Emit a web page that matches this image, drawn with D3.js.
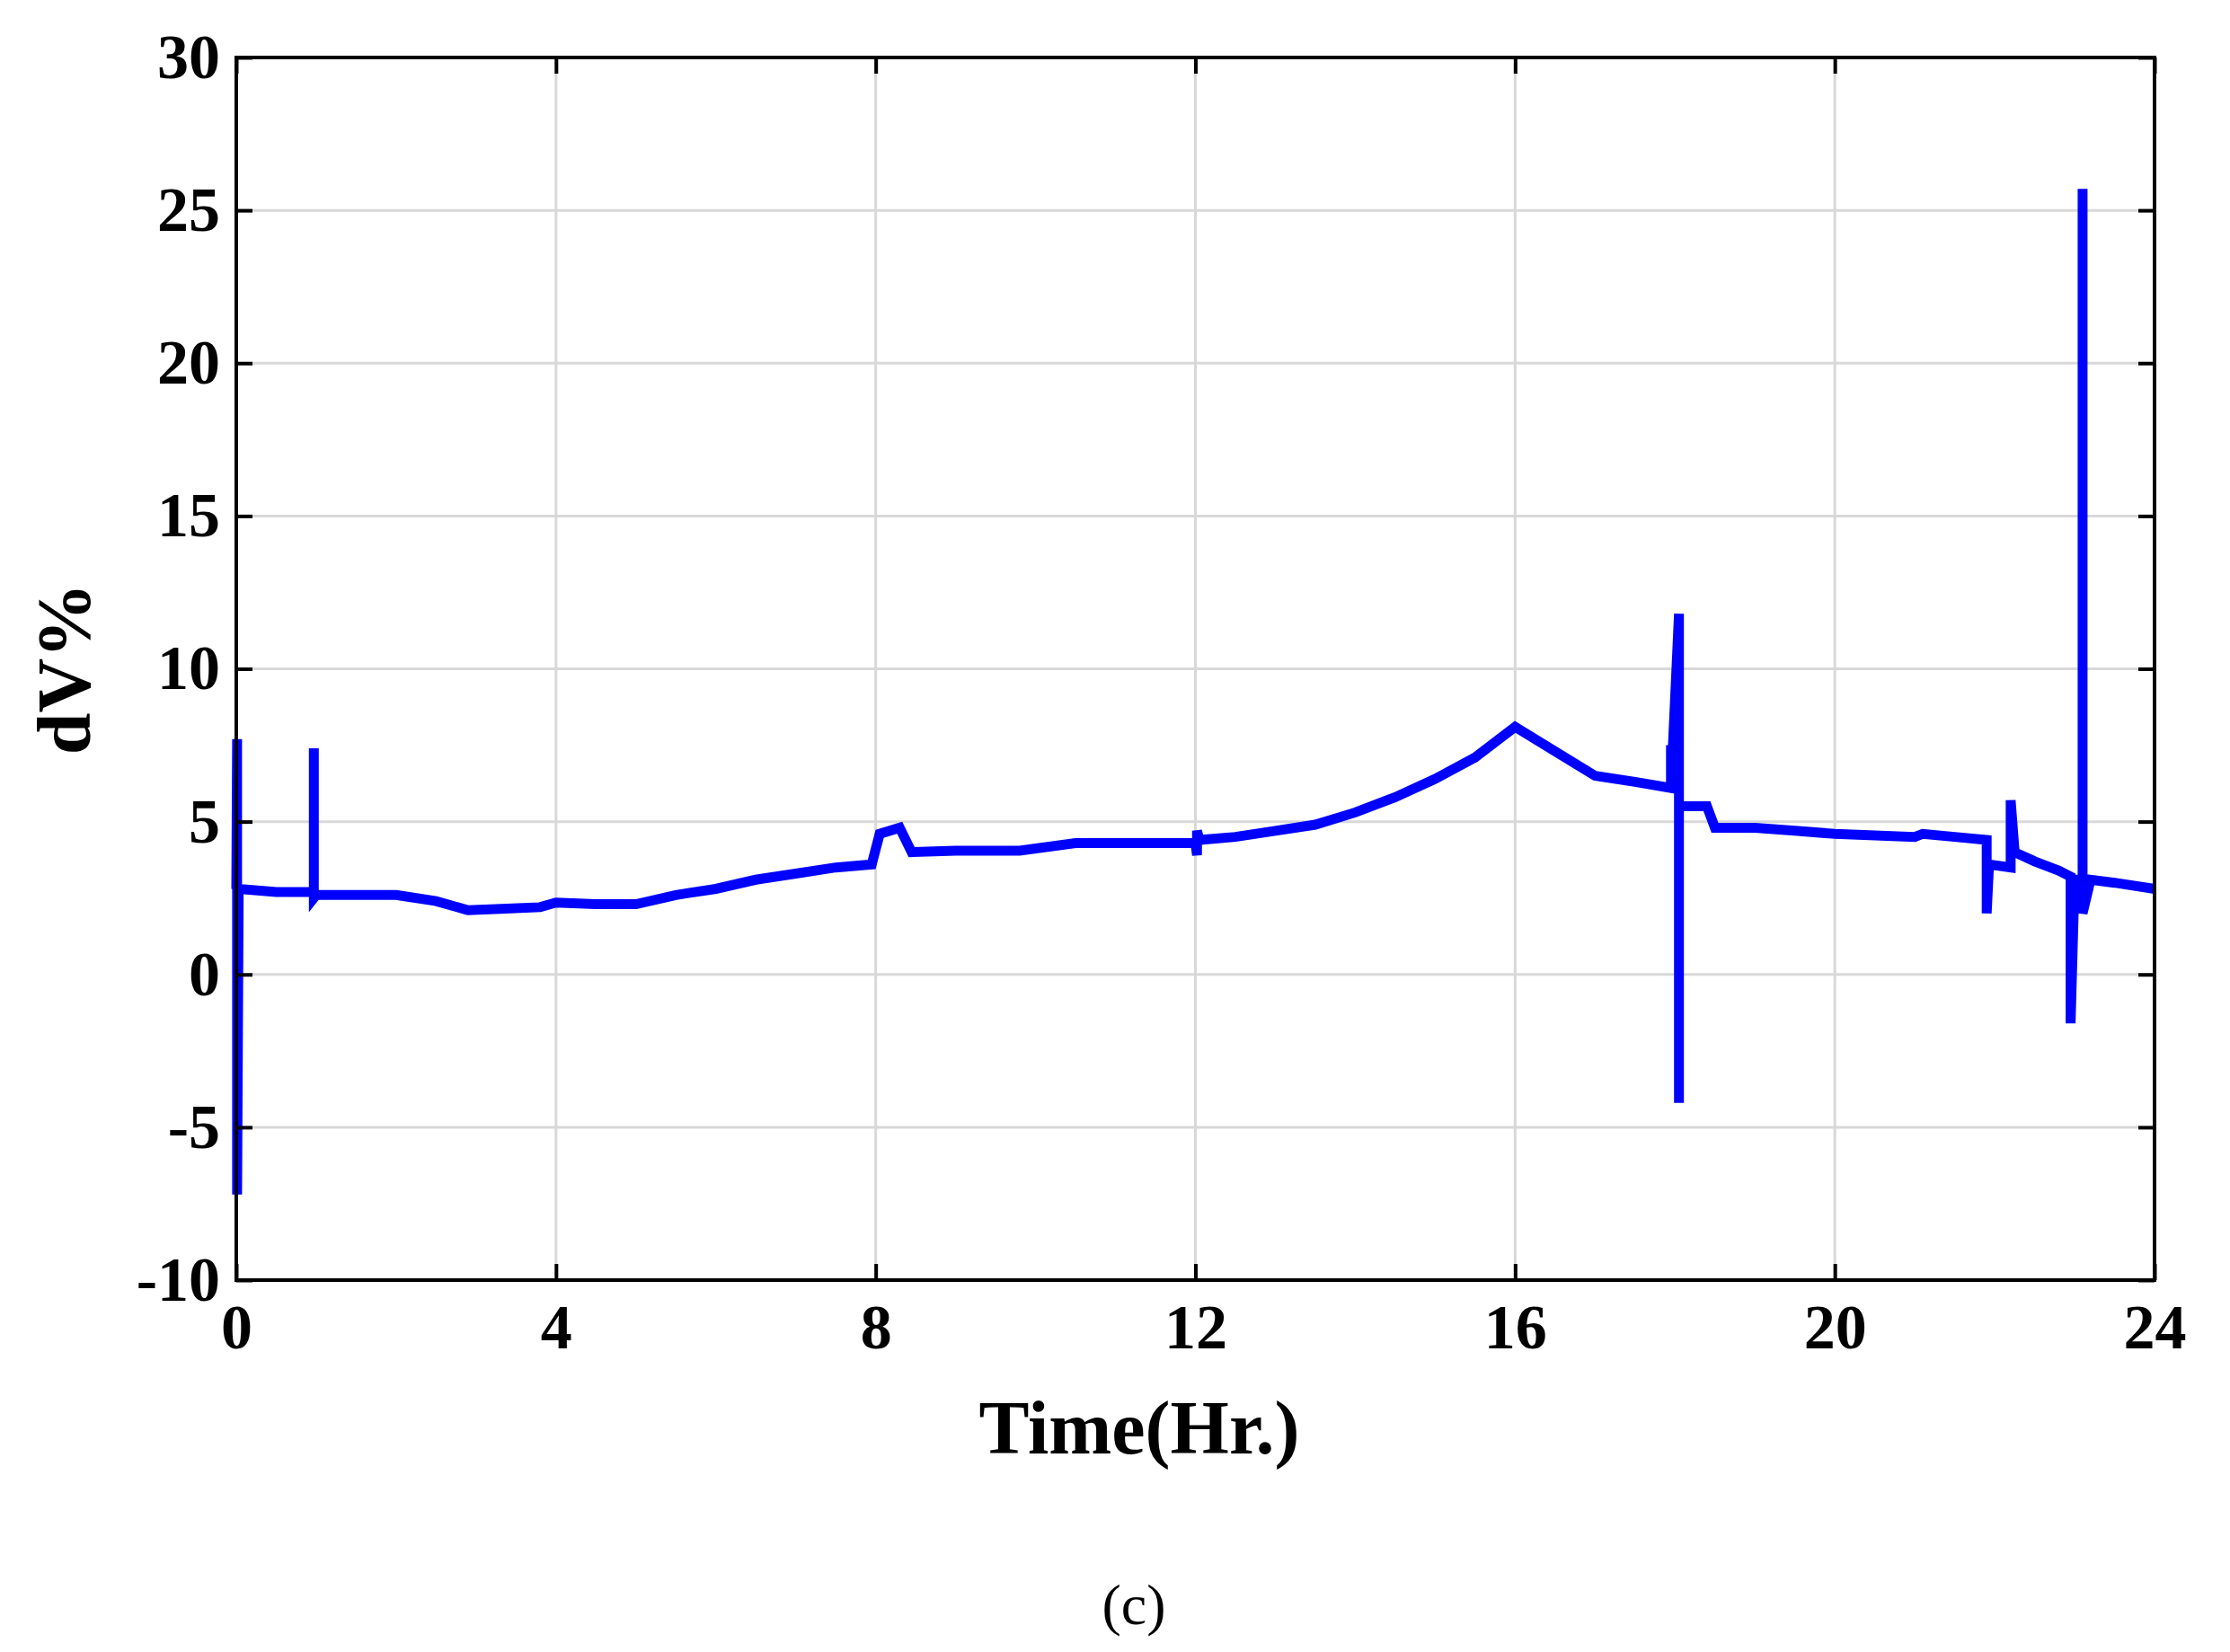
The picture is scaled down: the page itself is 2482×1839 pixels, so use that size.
<!DOCTYPE html><html><head><meta charset="utf-8"><script src="https://cdn.jsdelivr.net/npm/d3@7"></script>
<style>body{margin:0;background:#fff}</style></head><body><svg id="c" width="2482" height="1839"></svg>
<script>
const xTicks=[0,4,8,12,16,20,24];
const yTicks=[-10,-5,0,5,10,15,20,25,30];
const times=[0,0.01,0.01,0.03,0.5,0.97,0.97,0.97,1.0,2.0,2.5,2.9,3.8,4.0,4.5,5.0,5.5,6.0,6.5,7.0,7.5,7.95,8.05,8.3,8.45,9.0,9.8,10.5,12.0,12.02,12.02,12.05,12.5,13.0,13.5,14.0,14.5,15.0,15.5,16.0,16.5,17.0,17.5,17.95,17.95,17.95,18.05,18.05,18.05,18.4,18.5,19.0,19.5,20.0,21.0,21.1,21.5,21.9,21.9,21.93,22.2,22.2,22.25,22.5,22.8,22.95,22.95,23.0,23.1,23.1,23.1,23.2,23.5,24.0];
const values=[2.8,7.7,-7.2,2.8,2.7,2.7,7.4,2.5,2.6,2.6,2.4,2.1,2.2,2.35,2.3,2.3,2.6,2.8,3.1,3.3,3.5,3.6,4.6,4.8,4.0,4.05,4.05,4.3,4.3,3.9,4.7,4.4,4.5,4.7,4.9,5.3,5.8,6.4,7.1,8.1,7.3,6.5,6.3,6.1,7.5,6.1,11.8,-4.2,5.5,5.5,4.8,4.8,4.7,4.6,4.5,4.6,4.5,4.4,2.0,3.6,3.5,5.7,4.0,3.7,3.4,3.2,-1.6,3.1,3.1,25.7,2.0,3.1,3.0,2.8];
const svg=d3.select('#c');
const L=263,R=2398,T=64,B=1425;
const x=d3.scaleLinear().domain([0,24]).range([L,R]);
const y=d3.scaleLinear().domain([-10,30]).range([B,T]);
const g=svg.append('g');
g.selectAll('.gx').data(xTicks).join('line').attr('x1',d=>x(d)).attr('x2',d=>x(d)).attr('y1',T).attr('y2',B).attr('stroke','#d8d8d8').attr('stroke-width',3);
g.selectAll('.gy').data(yTicks).join('line').attr('y1',d=>y(d)).attr('y2',d=>y(d)).attr('x1',L).attr('x2',R).attr('stroke','#d8d8d8').attr('stroke-width',3);
const pts=times.map((t,i)=>[t,values[i]]);
svg.append('path').datum(pts).attr('d',d3.line().x(d=>x(d[0])).y(d=>y(d[1]))).attr('fill','none').attr('stroke','#0000ff').attr('stroke-width',11).attr('stroke-linejoin','miter').attr('stroke-linecap','butt');
const fs='font-family:"Liberation Serif",serif;font-weight:bold;font-size:70px';
const fmt=d=>String(d);
const xa=svg.append('g').attr('transform',`translate(0,${B})`).call(d3.axisBottom(x).tickValues(xTicks).tickSize(-18).tickPadding(26).tickFormat(fmt));
const xa2=svg.append('g').attr('transform',`translate(0,${T})`).call(d3.axisTop(x).tickValues(xTicks).tickSize(-18).tickFormat(''));
const ya=svg.append('g').attr('transform',`translate(${L},0)`).call(d3.axisLeft(y).tickValues(yTicks).tickSize(-18).tickPadding(18).tickFormat(fmt));
const ya2=svg.append('g').attr('transform',`translate(${R},0)`).call(d3.axisRight(y).tickValues(yTicks).tickSize(-18).tickFormat(''));
[xa,xa2,ya,ya2].forEach(a=>{a.selectAll('path,line').attr('stroke','#000').attr('stroke-width',4);a.select('.domain').remove();a.selectAll('text').attr('style',fs).attr('fill','#000');});
svg.append('rect').attr('x',L).attr('y',T).attr('width',R-L).attr('height',B-T).attr('fill','none').attr('stroke','#000').attr('stroke-width',4);
svg.append('text').attr('x',1268).attr('y',1618).attr('text-anchor','middle').attr('style','font-family:"Liberation Serif",serif;font-weight:bold;font-size:84px').text('Time(Hr.)');
svg.append('text').attr('transform',`translate(100,${(T+B)/2}) rotate(-90)`).attr('text-anchor','middle').attr('style','font-family:"Liberation Serif",serif;font-weight:bold;font-size:84px').text('dV%');
svg.append('text').attr('x',1262).attr('y',1808).attr('text-anchor','middle').attr('style','font-family:"Liberation Serif",serif;font-size:64px').text('(c)');
</script></body></html>
